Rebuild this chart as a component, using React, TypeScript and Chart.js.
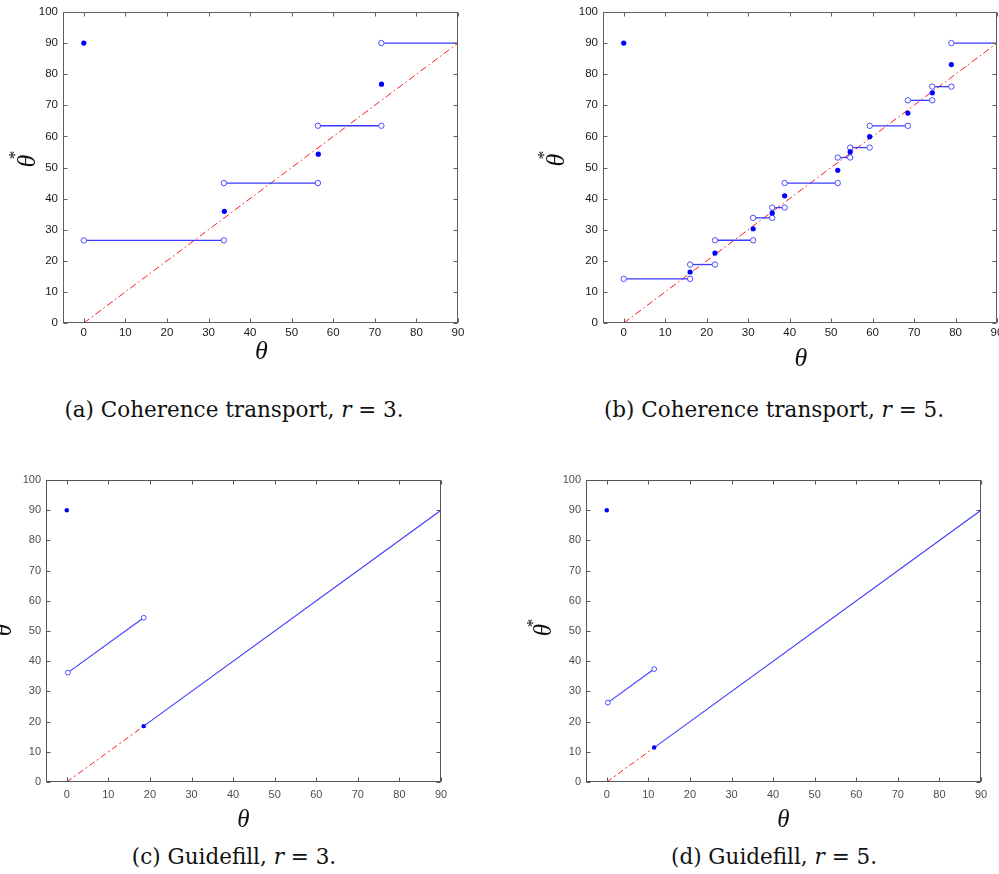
import React, { useEffect, useRef } from "react";
import { Chart, registerables } from "chart.js";

Chart.register(...registerables);

// ---------- tick labels ----------
const xTickValues = [0, 10, 20, 30, 40, 50, 60, 70, 80, 90];
const yTickValues = [0, 10, 20, 30, 40, 50, 60, 70, 80, 90, 100];

// ---------- (a) Coherence transport, r = 3 ----------
const ctR3StepLevels = [26.57, 45, 63.43, 90];
const ctR3StepStarts = [0, 33.69, 56.31, 71.57];
const ctR3StepEnds = [33.69, 56.31, 71.57, 90];
const ctR3JumpX = [0, 33.8, 56.4, 71.6];
const ctR3JumpY = [90, 35.9, 54.3, 76.8];

// ---------- (b) Coherence transport, r = 5 ----------
const ctR5StepLevels = [14.2, 18.8, 26.6, 33.8, 37.1, 45, 53.2, 56.4, 63.4, 71.6, 76.0, 90];
const ctR5StepStarts = [0, 16.0, 22.0, 31.2, 35.8, 38.8, 51.6, 54.6, 59.3, 68.5, 74.4, 79.0];
const ctR5StepEnds = [16.0, 22.0, 31.2, 35.8, 38.8, 51.6, 54.6, 59.3, 68.5, 74.4, 79.0, 90];
const ctR5JumpX = [0, 16.0, 22.0, 31.2, 35.8, 38.8, 51.6, 54.6, 59.3, 68.5, 74.4, 79.0];
const ctR5JumpY = [90, 16.4, 22.5, 30.3, 35.4, 40.9, 49.1, 55.0, 59.9, 67.5, 74.0, 83.1];

// ---------- (c) Guidefill, r = 3 ----------
const gfR3BranchX = [0.25, 18.5];
const gfR3BranchY = [36.2, 54.4];
const gfR3MainX = [18.5, 90];
const gfR3MainY = [18.5, 90];
const gfR3DotX = [0, 18.5];
const gfR3DotY = [90, 18.5];
const gfR3DiagX = [0, 18.5];
const gfR3DiagY = [0, 18.5];

// ---------- (d) Guidefill, r = 5 ----------
const gfR5BranchX = [0.25, 11.4];
const gfR5BranchY = [26.3, 37.4];
const gfR5MainX = [11.4, 90];
const gfR5MainY = [11.4, 90];
const gfR5DotX = [0, 11.4];
const gfR5DotY = [90, 11.4];
const gfR5DiagX = [0, 11.4];
const gfR5DiagY = [0, 11.4];

// full diagonal for coherence transport panels
const diagFullX = [0, 90];
const diagFullY = [0, 90];

const zip = (xs: number[], ys: number[]) => xs.map((x, i) => ({ x, y: ys[i] }));

const LINE_BLUE = "#3a3aff";
const OPEN_BLUE = "#4d4dff";
const DOT_BLUE = "#0000ff";
const RED = "#ff1a1a";

function dotsDataset(xs: number[], ys: number[], r: number) {
  return {
    type: "line" as const,
    data: zip(xs, ys),
    showLine: false,
    pointRadius: r,
    pointBackgroundColor: DOT_BLUE,
    pointBorderColor: DOT_BLUE,
    pointBorderWidth: 0,
  };
}

function segmentDataset(xs: number[], ys: number[], radii: number[], width: number) {
  return {
    type: "line" as const,
    data: zip(xs, ys),
    borderColor: LINE_BLUE,
    borderWidth: width,
    pointRadius: radii,
    pointBackgroundColor: "#ffffff",
    pointBorderColor: OPEN_BLUE,
    pointBorderWidth: 1,
  };
}

function diagDataset(xs: number[], ys: number[], dash: number[]) {
  return {
    type: "line" as const,
    data: zip(xs, ys),
    borderColor: RED,
    borderWidth: 1,
    borderDash: dash,
    pointRadius: 0,
  };
}

function stepDatasets(levels: number[], starts: number[], ends: number[]) {
  return levels.map((lv, i) =>
    segmentDataset([starts[i], ends[i]], [lv, lv], [2.7, ends[i] >= 90 ? 0 : 2.7], 1.3)
  );
}

const decorPlugin = {
  id: "axisDecor",
  afterDatasetsDraw(chart: any, _args: any, opts: any) {
    const { ctx, chartArea, scales } = chart;
    const { left, right, top, bottom } = chartArea;
    const xs = scales.x;
    const ys = scales.y;
    ctx.save();
    ctx.strokeStyle = opts.frameColor;
    ctx.lineWidth = 1;
    const L = Math.round(left) + 0.5;
    const R = Math.round(right) - 0.5;
    const T = Math.round(top) + 0.5;
    const B = Math.round(bottom) - 0.5;
    ctx.strokeRect(L, T, R - L, B - T);
    const tl = opts.tickLen;
    ctx.beginPath();
    for (const v of xTickValues) {
      const px = Math.round(xs.getPixelForValue(v)) + 0.5;
      ctx.moveTo(px, B);
      ctx.lineTo(px, B - tl);
      ctx.moveTo(px, T);
      ctx.lineTo(px, T + tl);
    }
    for (const v of yTickValues) {
      const py = Math.round(ys.getPixelForValue(v)) + 0.5;
      ctx.moveTo(L, py);
      ctx.lineTo(L + tl, py);
      ctx.moveTo(R, py);
      ctx.lineTo(R - tl, py);
    }
    ctx.stroke();

    ctx.fillStyle = "#111111";
    ctx.font = opts.titleFont;
    ctx.textAlign = "center";
    ctx.textBaseline = "middle";
    ctx.fillText("θ", (left + right) / 2 + opts.xTitleDx, bottom + opts.xTitleDy);

    ctx.translate(left - opts.yTitleDx, (top + bottom) / 2 + opts.yTitleDy);
    ctx.rotate(-Math.PI / 2);
    ctx.fillText("θ", 0, 0);
    ctx.font = opts.starFont;
    ctx.textBaseline = "alphabetic";
    ctx.fillText("*", opts.starDx, opts.starDy);
    ctx.restore();
  },
};

type PanelProps = {
  left: number;
  top: number;
  width: number;
  height: number;
  areaLeft: number;
  areaTop: number;
  areaRight: number;
  areaBottom: number;
  datasets: any[];
  tickFont: number;
  tickColor: string;
  xPad: number;
  yPad: number;
  decor: any;
};

function Panel(p: PanelProps) {
  const ref = useRef<HTMLCanvasElement | null>(null);
  useEffect(() => {
    if (!ref.current) return;
    const chart = new Chart(ref.current, {
      type: "line",
      data: { datasets: p.datasets },
      plugins: [decorPlugin],
      options: {
        animation: false,
        responsive: false,
        maintainAspectRatio: false,
        events: [],
        layout: {
          padding: {
            left: 0,
            top: p.areaTop,
            right: p.width - p.areaRight,
            bottom: 0,
          },
        },
        plugins: {
          legend: { display: false },
          tooltip: { enabled: false },
          axisDecor: p.decor,
        } as any,
        scales: {
          x: {
            type: "linear",
            min: -5,
            max: 90,
            afterBuildTicks: (s: any) => {
              s.ticks = xTickValues.map((v) => ({ value: v }));
            },
            afterFit: (s: any) => {
              s.height = p.height - p.areaBottom;
            },
            grid: { display: false, drawTicks: false },
            border: { display: false },
            ticks: {
              padding: p.xPad,
              maxRotation: 0,
              autoSkip: false,
              color: p.tickColor,
              font: { family: "'Liberation Sans', Arial, sans-serif", size: p.tickFont },
            },
          },
          y: {
            type: "linear",
            min: 0,
            max: 100,
            afterBuildTicks: (s: any) => {
              s.ticks = yTickValues.map((v) => ({ value: v }));
            },
            afterFit: (s: any) => {
              s.width = p.areaLeft;
            },
            grid: { display: false, drawTicks: false },
            border: { display: false },
            ticks: {
              padding: p.yPad,
              autoSkip: false,
              color: p.tickColor,
              font: { family: "'Liberation Sans', Arial, sans-serif", size: p.tickFont },
            },
          },
        },
      } as any,
    });
    return () => chart.destroy();
  }, []);
  return (
    <canvas
      ref={ref}
      width={p.width}
      height={p.height}
      style={{ position: "absolute", left: p.left, top: p.top, width: p.width, height: p.height }}
    />
  );
}

const captionStyle = (cx: number, cy: number): React.CSSProperties => ({
  position: "absolute",
  left: cx,
  top: cy - 14,
  transform: "translateX(-50%)",
  whiteSpace: "nowrap",
  fontFamily: "'DejaVu Serif', serif",
  fontSize: 21.5,
  lineHeight: "28px",
  color: "#111",
});

export default function App() {
  const dsA = [
    dotsDataset(ctR3JumpX, ctR3JumpY, 2.6),
    ...stepDatasets(ctR3StepLevels, ctR3StepStarts, ctR3StepEnds),
    diagDataset(diagFullX, diagFullY, [7, 3, 1.5, 3]),
  ];
  const dsB = [
    dotsDataset(ctR5JumpX, ctR5JumpY, 2.6),
    ...stepDatasets(ctR5StepLevels, ctR5StepStarts, ctR5StepEnds),
    diagDataset(diagFullX, diagFullY, [7, 3, 1.5, 3]),
  ];
  const dsC = [
    dotsDataset(gfR3DotX, gfR3DotY, 2.2),
    segmentDataset(gfR3BranchX, gfR3BranchY, [2.4, 2.4], 1.1),
    segmentDataset(gfR3MainX, gfR3MainY, [0, 0], 1.1),
    diagDataset(gfR3DiagX, gfR3DiagY, [6, 3, 2, 3]),
  ];
  const dsD = [
    dotsDataset(gfR5DotX, gfR5DotY, 2.2),
    segmentDataset(gfR5BranchX, gfR5BranchY, [2.4, 2.4], 1.1),
    segmentDataset(gfR5MainX, gfR5MainY, [0, 0], 1.1),
    diagDataset(gfR5DiagX, gfR5DiagY, [6, 3, 2, 3]),
  ];

  const decorTop = (xDy: number, yDx: number, yDy: number, starDx: number, starDy: number) => ({
    frameColor: "#5f5f5f",
    tickLen: 4,
    titleFont: "italic 26px 'Liberation Serif', serif",
    starFont: "17px 'Liberation Serif', serif",
    xTitleDx: 1,
    xTitleDy: xDy,
    yTitleDx: yDx,
    yTitleDy: yDy,
    starDx,
    starDy,
  });
  const decorBottom = (xDy: number, yDx: number, yDy: number, starDx: number, starDy: number) => ({
    frameColor: "#555555",
    tickLen: 4,
    titleFont: "italic 25px 'Liberation Serif', serif",
    starFont: "17px 'Liberation Serif', serif",
    xTitleDx: 0,
    xTitleDy: xDy,
    yTitleDx: yDx,
    yTitleDy: yDy,
    starDx,
    starDy,
  });

  return (
    <div
      style={{
        position: "absolute",
        left: 0,
        top: 0,
        width: 999,
        height: 874,
        overflow: "hidden",
        background: "#ffffff",
      }}
    >
      <Panel
        left={0}
        top={0}
        width={470}
        height={370}
        areaLeft={63}
        areaTop={12}
        areaRight={458}
        areaBottom={323}
        datasets={dsA}
        tickFont={11.5}
        tickColor="#1a1a1a"
        xPad={3}
        yPad={5}
        decor={decorTop(29, 35, -6.5, 6, -8)}
      />
      <Panel
        left={520}
        top={0}
        width={500}
        height={375}
        areaLeft={83}
        areaTop={12}
        areaRight={477}
        areaBottom={323}
        datasets={dsB}
        tickFont={11.5}
        tickColor="#1a1a1a"
        xPad={3}
        yPad={5}
        decor={decorTop(36, 46, -7.5, 5, -8)}
      />
      <Panel
        left={0}
        top={460}
        width={470}
        height={380}
        areaLeft={46}
        areaTop={20}
        areaRight={441}
        areaBottom={322}
        datasets={dsC}
        tickFont={11}
        tickColor="#4d4d4d"
        xPad={6}
        yPad={5}
        decor={decorBottom(38, 42, -1, 7, -6)}
      />
      <Panel
        left={520}
        top={460}
        width={479}
        height={380}
        areaLeft={66}
        areaTop={20}
        areaRight={461}
        areaBottom={322}
        datasets={dsD}
        tickFont={11}
        tickColor="#4d4d4d"
        xPad={6}
        yPad={5}
        decor={decorBottom(38, 42, -1, 7, -6)}
      />
      <div style={captionStyle(234, 410)}>
        (a) Coherence transport, <i>r</i> = 3.
      </div>
      <div style={captionStyle(774, 410)}>
        (b) Coherence transport, <i>r</i> = 5.
      </div>
      <div style={captionStyle(234, 857)}>
        (c) Guidefill, <i>r</i> = 3.
      </div>
      <div style={captionStyle(774, 857)}>
        (d) Guidefill, <i>r</i> = 5.
      </div>
    </div>
  );
}
